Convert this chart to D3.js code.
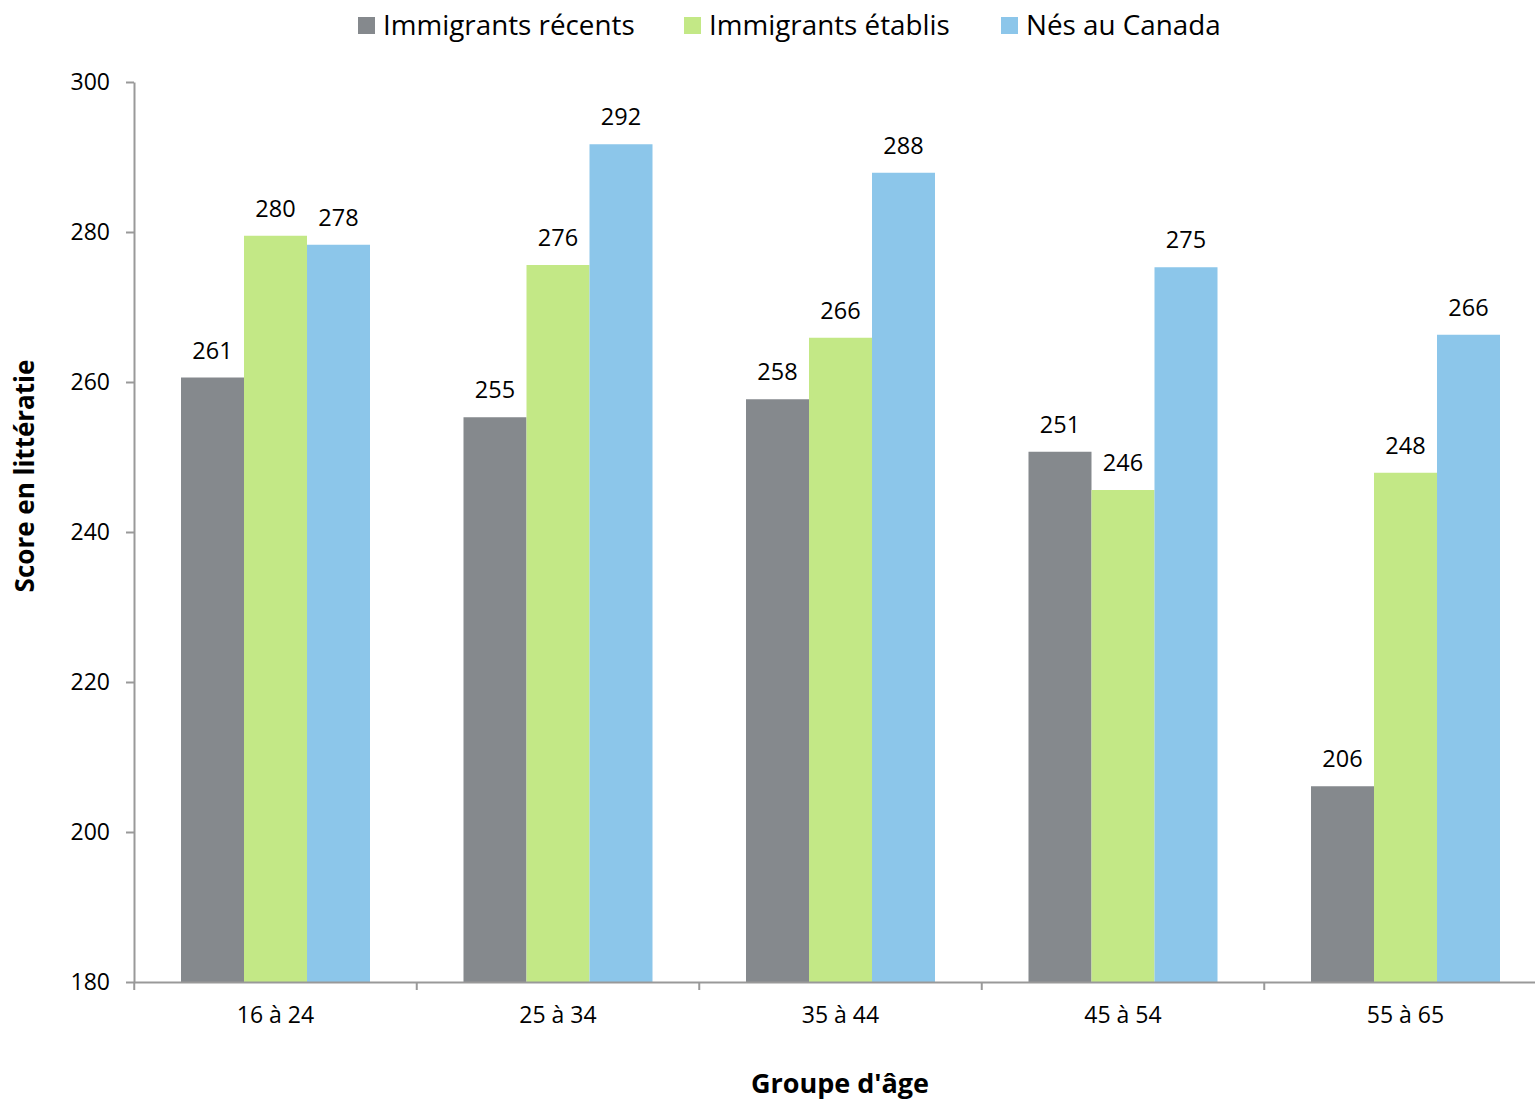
<!DOCTYPE html>
<html><head><meta charset="utf-8">
<script src="https://cdn.jsdelivr.net/npm/d3@7"></script>
<style>body{margin:0;background:#fff;} svg{display:block;}</style>
</head><body>
<script>
const categories = ["16 à 24","25 à 34","35 à 44","45 à 54","55 à 65"];
const seriesNames = ["Immigrants récents","Immigrants établis","Nés au Canada"];
const recents = [260.6, 255.3, 257.7, 250.7, 206.1];
const etablis = [279.5, 275.6, 265.9, 245.6, 247.9];
const nesCanada = [278.3, 291.7, 287.9, 275.3, 266.3];
const yTicks = [180, 200, 220, 240, 260, 280, 300];
const colors = ["#85898d", "#c3e886", "#8cc6ea"];
const values = [recents, etablis, nesCanada];

const W = 1535, H = 1103;
const svg = d3.select("body").append("svg").attr("width", W).attr("height", H);
const font = "'Open Sans', sans-serif";

const x = d3.scaleBand().domain(categories).range([134.25, 1546.75]).padding(0);
const x1 = d3.scaleBand().domain(seriesNames).range([0, x.bandwidth()]).paddingInner(0).paddingOuter(0.742);
const y = d3.scaleLinear().domain([180, 300]).range([982, 82]);

// bars
seriesNames.forEach((s, si) => {
  const g = svg.append("g");
  g.selectAll("rect").data(categories).join("rect")
    .attr("x", c => x(c) + x1(s))
    .attr("y", (c, i) => y(values[si][i]))
    .attr("width", x1.bandwidth())
    .attr("height", (c, i) => y(180) - y(values[si][i]))
    .attr("fill", colors[si]);
  g.selectAll("text").data(categories).join("text")
    .attr("x", c => x(c) + x1(s) + x1.bandwidth() / 2)
    .attr("y", (c, i) => y(values[si][i]) - 19)
    .attr("text-anchor", "middle")
    .attr("font-family", font).attr("font-size", 23.5).attr("fill", "#000")
    .text((c, i) => Math.round(values[si][i]));
});

// y axis
const yAxis = svg.append("g").attr("transform", "translate(134,0)")
  .call(d3.axisLeft(y).tickValues(yTicks).tickSize(8).tickPadding(16).tickSizeOuter(0));
yAxis.select(".domain").attr("stroke", "#999").attr("stroke-width", 2);
yAxis.selectAll(".tick line").attr("stroke", "#999").attr("stroke-width", 2);
yAxis.selectAll("text").attr("font-family", font).attr("font-size", 23).attr("fill", "#000");

// x axis
const xAxis = svg.append("g").attr("transform", "translate(0,982)")
  .call(d3.axisBottom(x).tickSize(0).tickPadding(25).tickSizeOuter(0));
xAxis.select(".domain").attr("stroke", "#999").attr("stroke-width", 2);
xAxis.selectAll("text").attr("font-family", font).attr("font-size", 23).attr("fill", "#000");
// boundary tick marks
const bounds = categories.map(c => x(c)).concat([x.range()[1]]);
svg.append("g").selectAll("line").data(bounds).join("line")
  .attr("x1", d => d).attr("x2", d => d).attr("y1", 982).attr("y2", 990)
  .attr("stroke", "#999").attr("stroke-width", 2);

// axis titles
svg.append("text").attr("x", 840).attr("y", 1093).attr("text-anchor", "middle")
  .attr("font-family", font).attr("font-size", 27).attr("font-weight", "bold").text("Groupe d'âge");
svg.append("text").attr("transform", "translate(34,476) rotate(-90)").attr("text-anchor", "middle")
  .attr("font-family", font).attr("font-size", 26).attr("font-weight", "bold").text("Score en littératie");

// legend
const legX = [358, 684, 1001];
const leg = svg.append("g");
seriesNames.forEach((s, i) => {
  leg.append("rect").attr("x", legX[i]).attr("y", 17).attr("width", 17).attr("height", 17).attr("fill", colors[i]);
  leg.append("text").attr("x", legX[i] + 25).attr("y", 35)
    .attr("font-family", font).attr("font-size", 27.8).attr("fill", "#000").text(s);
});
</script>
</body></html>
